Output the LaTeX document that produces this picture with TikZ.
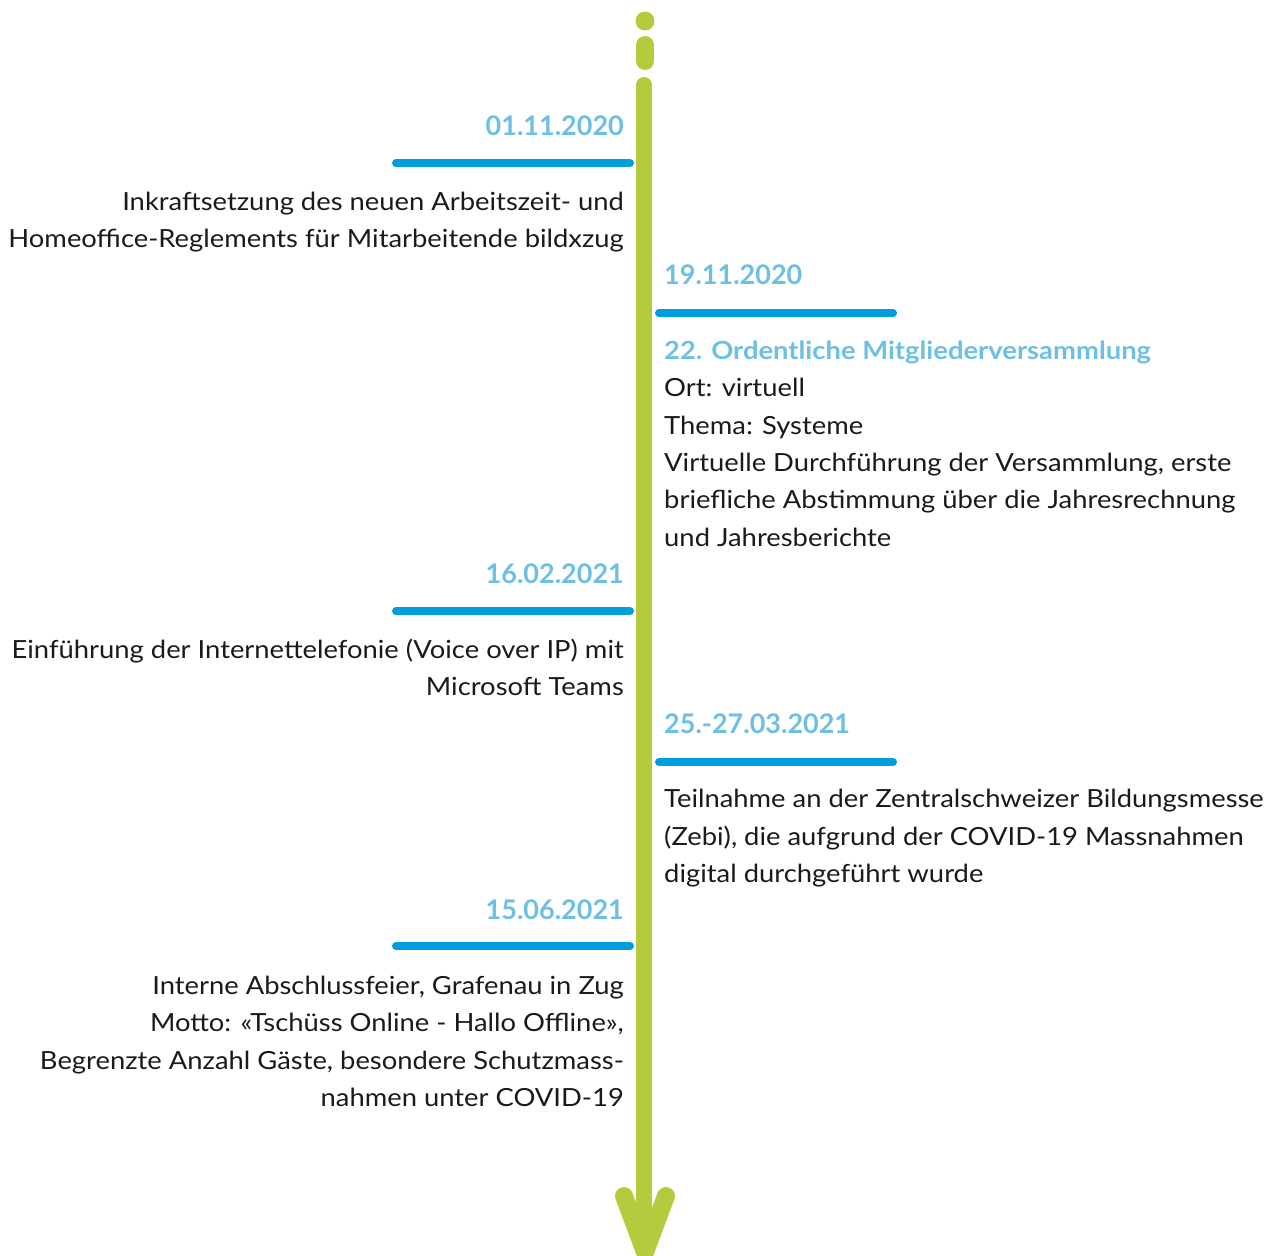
\documentclass[tikz,border=0pt]{standalone}
\usepackage{fontspec}
\setmainfont{Lato}
\newfontfamily\bodyfont[FakeStretch=1.095]{Lato}
\definecolor{lgreen}{HTML}{B5CA3D}
\definecolor{barblue}{HTML}{009EDB}
\definecolor{dateblue}{HTML}{6DBFE3}
\definecolor{txt}{HTML}{1A1A1A}
\begin{document}
\begin{tikzpicture}[x=1pt,y=-1pt,
  body/.style={font=\bodyfont\fontsize{25}{30}\selectfont, text=txt, inner sep=0pt},
  bodyb/.style={font=\bodyfont\fontsize{25}{30}\selectfont\bfseries, text=dateblue, inner sep=0pt},
  date/.style={font=\fontsize{27}{30}\selectfont\bfseries, text=dateblue, inner sep=0pt},
  bar/.style={line width=8pt, line cap=round, draw=barblue},
  stem/.style={line width=16pt, line cap=round, draw=lgreen}]
\useasboundingbox (0,0) rectangle (1284,1255);
% timeline
\fill[lgreen] (645,21) circle (9.5);
\coordinate (d1) at (645,45); \coordinate (d2) at (645,61);
\draw[stem, line width=18pt] (d1) -- (d2);
\coordinate (top) at (644,85); \coordinate (bot) at (644,1235);
\draw[stem] (top) -- (bot);
\coordinate (al) at (624,1196); \coordinate (tip) at (645,1252); \coordinate (ar) at (666,1196);
\fill[lgreen] (al) -- (tip) -- (ar) -- (645,1215) -- cycle;
\draw[stem, line width=18pt, line join=round] (al) -- (tip) -- (ar);
% event 1
\node[date, anchor=base east] (t1) at (624,135) {01.11.2020};
\coordinate (b1s) at (396,163); \coordinate (b1e) at (630,163);
\draw[bar] (b1s) -- (b1e);
\node[body, anchor=base east] (e1a) at (624,210) {Inkraftsetzung des neuen Arbeitszeit- und};
\node[body, anchor=base east] (e1b) at (624,247) {Homeoffice-Reglements für Mitarbeitende bildxzug};
% event 2
\node[date, anchor=base west] (t2) at (664,284) {19.11.2020};
\coordinate (b2s) at (659,313); \coordinate (b2e) at (893,313);
\draw[bar] (b2s) -- (b2e);
\node[bodyb, anchor=base west] (e2a) at (664,359) {22. Ordentliche Mitgliederversammlung};
\node[body, anchor=base west] (e2b) at (664,396) {Ort: virtuell};
\node[body, anchor=base west] (e2c) at (664,434) {Thema: Systeme};
\node[body, anchor=base west] (e2d) at (664,471) {Virtuelle Durchführung der Versammlung, erste};
\node[body, anchor=base west] (e2e) at (664,508) {briefliche Abstimmung über die Jahresrechnung};
\node[body, anchor=base west] (e2f) at (664,546) {und Jahresberichte};
% event 3
\node[date, anchor=base east] (t3) at (624,583) {16.02.2021};
\coordinate (b3s) at (396,611); \coordinate (b3e) at (630,611);
\draw[bar] (b3s) -- (b3e);
\node[body, anchor=base east] (e3a) at (624,658) {Einführung der Internettelefonie (Voice over IP) mit};
\node[body, anchor=base east] (e3b) at (624,695) {Microsoft Teams};
% event 4
\node[date, anchor=base west] (t4) at (664,733) {25.-27.03.2021};
\coordinate (b4s) at (659,762); \coordinate (b4e) at (893,762);
\draw[bar] (b4s) -- (b4e);
\node[body, anchor=base west] (e4a) at (664,807) {Teilnahme an der Zentralschweizer Bildungsmesse};
\node[body, anchor=base west] (e4b) at (664,845) {(Zebi), die aufgrund der COVID-19 Massnahmen};
\node[body, anchor=base west] (e4c) at (664,882) {digital durchgeführt wurde};
% event 5
\node[date, anchor=base east] (t5) at (624,919) {15.06.2021};
\coordinate (b5s) at (396,946); \coordinate (b5e) at (630,946);
\draw[bar] (b5s) -- (b5e);
\node[body, anchor=base east] (e5a) at (624,994) {Interne Abschlussfeier, Grafenau in Zug};
\node[body, anchor=base east] (e5b) at (624,1031) {Motto: «Tschüss Online - Hallo Offline»,};
\node[body, anchor=base east] (e5c) at (624,1069) {Begrenzte Anzahl Gäste, besondere Schutzmass-};
\node[body, anchor=base east] (e5d) at (624,1106) {nahmen unter COVID-19};
\end{tikzpicture}
\end{document}
